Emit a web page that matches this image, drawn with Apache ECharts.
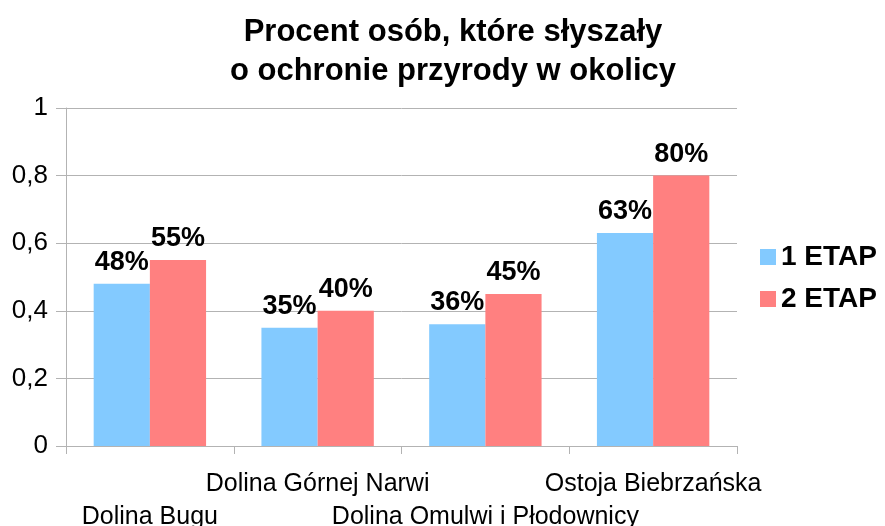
<!DOCTYPE html>
<html>
<head>
<meta charset="utf-8">
<script src="https://cdn.jsdelivr.net/npm/echarts@6/dist/echarts.min.js"></script>
<style>
  html, body { margin: 0; padding: 0; background: #fff; }
  #chart { width: 885px; height: 526px; }
</style>
</head>
<body>
<div id="chart"></div>
<script>
const categories = ['Dolina Bugu', 'Dolina Górnej Narwi', 'Dolina Omulwi i Płodownicy', 'Ostoja Biebrzańska']
const etap1 = [0.48, 0.35, 0.36, 0.63]
const etap2 = [0.55, 0.40, 0.45, 0.80]
const seriesNames = ['1 ETAP', '2 ETAP']

const font = '"Liberation Sans", Arial, sans-serif'
const chart = echarts.init(document.getElementById('chart'))

const barLabel = {
  show: true,
  position: 'top',
  distance: 8,
  fontFamily: font,
  fontSize: 27,
  fontWeight: 'bold',
  color: '#000',
  formatter: p => Math.round(p.value * 100) + '%'
}

const option = {
  animation: false,
  title: {
    text: 'Procent osób, które słyszały\no ochronie przyrody w okolicy',
    left: 448,
    textAlign: 'center',
    top: 8,
    textStyle: {
      fontFamily: font,
      fontSize: 31,
      fontWeight: 'bold',
      color: '#000',
      lineHeight: 39
    }
  },
  legend: {
    orient: 'vertical',
    left: 755,
    top: 238,
    itemWidth: 16,
    itemHeight: 16,
    itemGap: 14,
    icon: 'rect',
    textStyle: { fontFamily: font, fontSize: 28, fontWeight: 'bold', color: '#000' },
    data: seriesNames
  },
  grid: { left: 66, right: 148, top: 108, bottom: 80, outerBoundsMode: 'none' },
  xAxis: {
    type: 'category',
    data: categories,
    axisLine: { lineStyle: { color: '#b3b3b3' } },
    axisTick: { show: true, length: 8, lineStyle: { color: '#b3b3b3' } },
    axisLabel: {
      interval: 0,
      margin: 22,
      fontFamily: font,
      fontSize: 25,
      color: '#000',
      lineHeight: 33,
      formatter: (v, i) => (i % 2 === 0 ? '\n' + v : v)
    }
  },
  yAxis: {
    type: 'value',
    min: 0,
    max: 1,
    interval: 0.2,
    axisLine: { show: true, lineStyle: { color: '#b3b3b3' } },
    axisTick: { show: true, length: 10, lineStyle: { color: '#b3b3b3' } },
    splitLine: { lineStyle: { color: '#b3b3b3' } },
    axisLabel: {
      margin: 18,
      fontFamily: font,
      fontSize: 26,
      color: '#000',
      formatter: v => String(Math.round(v * 10) / 10).replace('.', ',')
    }
  },
  series: [
    {
      name: seriesNames[0],
      type: 'bar',
      data: etap1,
      barGap: '0%',
      barCategoryGap: '33%',
      itemStyle: { color: '#83caff' },
      label: barLabel
    },
    {
      name: seriesNames[1],
      type: 'bar',
      data: etap2,
      barGap: '0%',
      barCategoryGap: '33%',
      itemStyle: { color: '#ff8080' },
      label: barLabel
    }
  ]
}

chart.setOption(option)
</script>
</body>
</html>
